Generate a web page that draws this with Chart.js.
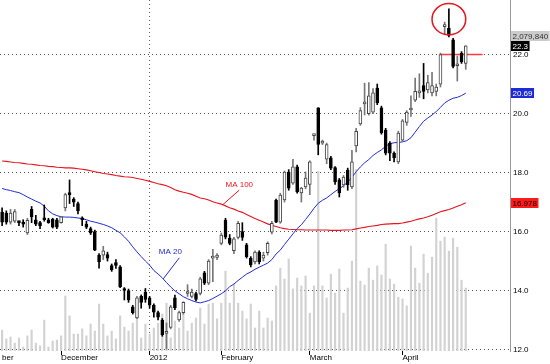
<!DOCTYPE html>
<html>
<head>
<meta charset="utf-8">
<script src="https://cdn.jsdelivr.net/npm/chart.js@4.4.1/dist/chart.umd.min.js"></script>
<style>
  html, body { margin: 0; padding: 0; background: #fff; }
  canvas { display: block; }
</style>
</head>
<body>
<canvas id="grafico" width="550" height="364"></canvas>
<script>
// velas diarias (leidas a ojo del grafico)
const opens = [16.66,16.63,16.32,16.35,16.32,16.30,15.95,16.75,16.40,16.30,
  16.45,16.40,16.42,16.40,16.30,16.80,17.30,17.10,16.95,16.45,
  16.25,16.10,16.00,15.20,15.20,15.22,14.85,14.95,14.80,14.05,
  14.00,13.45,13.07,13.80,13.95,13.75,13.50,13.25,13.00,12.55,
  12.75,13.75,13.00,13.25,13.90,13.80,13.90,13.90,14.60,14.25,
  15.10,15.12,15.60,16.39,15.78,15.35,15.80,16.00,15.55,15.10,
  14.97,15.30,15.10,15.28,15.98,17.07,16.32,17.07,18.02,17.64,
  18.19,17.31,17.51,17.60,19.25,20.19,19.00,18.45,18.50,18.17,
  17.75,17.58,18.08,17.51,18.90,19.65,20.33,20.00,20.05,20.86,
  20.19,19.44,19.00,18.66,18.36,19.10,19.70,20.12,20.45,20.70,
  20.95,20.80,20.70,20.75,21.00,22.95,22.90,22.50,21.62,22.05,21.70];
const highs = [16.80,16.70,16.75,16.75,16.35,16.40,16.45,16.85,16.55,16.35,
  16.90,16.45,16.45,16.45,16.50,17.30,17.75,17.15,17.00,16.50,
  16.35,16.15,16.05,15.25,15.50,15.30,14.90,15.05,14.85,14.10,
  14.05,13.50,13.80,13.85,14.07,13.80,13.55,13.30,13.05,12.90,
  13.50,13.85,13.30,13.62,14.20,14.05,13.95,14.45,14.65,15.05,
  15.40,15.25,15.95,16.45,15.90,15.80,16.35,16.30,15.60,15.15,
  15.35,15.35,15.30,15.65,16.35,17.10,17.30,18.05,18.10,18.45,
  18.25,17.50,18.02,18.40,19.30,20.20,19.10,19.00,18.55,18.20,
  17.80,17.90,18.15,18.75,19.50,20.20,21.03,21.05,20.85,21.00,
  20.25,19.50,19.05,18.70,19.40,19.80,20.10,20.60,21.20,21.35,
  21.70,21.30,21.40,21.00,22.05,23.10,23.55,22.55,21.95,22.10,22.30];
const lows = [16.20,16.25,16.25,16.30,16.20,16.15,15.90,16.30,16.20,16.10,
  16.35,16.28,16.12,16.10,16.28,16.70,16.95,16.85,16.60,16.20,
  16.10,15.90,15.35,14.76,15.05,15.00,14.65,14.75,14.10,13.68,
  13.60,13.20,13.05,13.40,13.60,13.40,13.10,13.00,12.45,12.02,
  12.70,13.35,12.95,13.20,13.80,13.75,13.65,13.85,14.20,14.20,
  14.30,15.05,15.55,15.75,15.55,15.25,15.75,15.70,15.10,14.80,
  14.90,14.90,15.00,15.20,15.92,16.30,16.28,17.00,17.40,17.60,
  17.30,17.00,17.45,17.25,19.10,18.60,18.95,18.30,18.10,17.60,
  17.17,17.50,17.40,17.45,18.70,19.60,19.95,19.95,20.00,20.30,
  19.30,18.60,18.40,18.36,18.30,19.05,19.60,19.90,20.40,20.55,
  20.50,20.70,20.60,20.60,20.90,22.70,22.60,21.55,21.10,21.70,21.50];
const closes = [16.32,16.32,16.63,16.68,16.30,16.25,16.38,16.50,16.25,16.20,
  16.40,16.30,16.15,16.15,16.50,17.25,17.25,17.00,16.70,16.40,
  16.15,15.95,15.37,14.97,15.35,15.10,14.70,14.85,14.12,14.00,
  13.68,13.25,13.75,13.60,13.70,13.50,13.27,13.10,12.50,12.60,
  13.45,13.42,13.25,13.60,13.95,13.95,13.70,14.40,14.25,15.00,
  15.15,15.20,15.88,15.81,15.60,15.75,16.28,15.80,15.15,14.87,
  15.30,14.97,15.20,15.60,16.28,16.32,17.24,18.02,17.47,18.19,
  17.34,17.47,17.81,18.36,19.27,18.95,19.07,18.95,18.15,17.68,
  17.31,17.85,17.58,18.36,19.40,20.10,20.36,20.60,20.70,20.36,
  19.34,18.66,18.66,18.50,19.34,19.75,20.05,20.17,20.75,20.75,
  20.75,21.05,20.95,20.90,22.00,23.00,22.65,21.60,21.65,21.75,22.30];
// volumen en millones
const volumes = [0.69,0.40,0.46,0.26,0.43,0.13,0.50,0.69,0.26,0.17,
  1.02,0.13,0.33,0.36,0.50,1.82,1.16,0.56,0.56,0.73,
  0.50,0.89,0.66,1.55,0.89,0.50,0.66,0.40,1.16,0.79,
  0.66,0.92,1.65,0.43,0.89,0.56,0.76,0.92,1.22,1.58,
  0.43,0.99,0.76,1.22,0.66,0.92,1.09,1.42,0.89,1.55,
  1.58,1.06,1.58,2.64,1.58,2.21,1.58,1.32,1.06,1.55,
  0.76,1.32,0.76,1.09,0.99,2.15,2.74,2.38,3.04,2.05,
  2.41,2.15,2.48,1.25,2.15,5.94,2.15,1.75,2.54,1.91,
  2.71,1.25,2.08,2.97,6.00,2.31,2.18,2.74,2.34,2.81,
  2.51,3.53,2.38,2.21,1.78,1.72,1.49,3.47,2.74,2.24,
  3.20,2.57,3.10,4.39,3.63,3.76,3.30,3.73,3.43,2.34,2.07984];
const ma20 = [17.46,17.42,17.39,17.35,17.32,17.25,17.17,17.10,17.03,16.97,
  16.86,16.70,16.60,16.54,16.50,16.49,16.49,16.48,16.46,16.44,
  16.40,16.35,16.32,16.28,16.24,16.19,16.13,16.04,15.96,15.82,
  15.67,15.48,15.31,15.15,15.00,14.86,14.68,14.56,14.43,14.27,
  14.12,13.99,13.89,13.79,13.72,13.66,13.61,13.58,13.62,13.66,
  13.73,13.81,13.89,13.99,14.13,14.22,14.34,14.45,14.56,14.63,
  14.72,14.79,14.86,14.93,15.05,15.24,15.37,15.56,15.74,15.92,
  16.10,16.23,16.41,16.59,16.79,16.96,17.06,17.14,17.25,17.36,
  17.45,17.55,17.68,17.84,18.03,18.19,18.33,18.44,18.58,18.68,
  18.77,18.89,18.98,19.01,19.02,19.04,19.08,19.18,19.37,19.56,
  19.74,19.85,19.95,20.07,20.21,20.36,20.45,20.52,20.55,20.61,20.69];
const ma100 = [18.39,18.38,18.36,18.34,18.33,18.31,18.29,18.28,18.26,18.24,
  18.23,18.21,18.20,18.18,18.17,18.16,18.16,18.15,18.13,18.11,
  18.09,18.06,18.03,18.00,17.97,17.95,17.93,17.90,17.88,17.86,
  17.85,17.83,17.80,17.77,17.74,17.70,17.66,17.62,17.59,17.55,
  17.49,17.42,17.37,17.33,17.30,17.26,17.20,17.14,17.11,17.07,
  17.01,16.97,16.93,16.87,16.81,16.76,16.70,16.65,16.58,16.51,
  16.44,16.38,16.32,16.26,16.21,16.17,16.13,16.10,16.08,16.07,
  16.06,16.06,16.05,16.05,16.05,16.05,16.05,16.05,16.04,16.04,
  16.04,16.05,16.05,16.06,16.09,16.12,16.14,16.17,16.19,16.21,
  16.24,16.25,16.26,16.27,16.27,16.29,16.32,16.35,16.39,16.43,
  16.46,16.50,16.55,16.61,16.67,16.71,16.75,16.80,16.86,16.91,16.978];

const totalSlots = 121;
const monthNames = ["ber", "December", "2012", "February", "March", "April"];
const monthSlots = [0, 14, 35, 52, 73, 95];
const yearSlot = 35;
const priceTicks = [12, 14, 16, 18, 20, 22];
// linea horizontal y circulo marcados a mano en el original
const lineLevel = 22.0, lineFrom = 104, lineTo = 114;
const circleSlot = 106, circlePrice = 23.2, circleBars = 4, circleSpan = 0.53;

const fuente = "Liberation Sans";
const labels = [];
for (let i = 0; i < totalSlots; i++) {
  const k = monthSlots.indexOf(i);
  labels.push(k >= 0 ? monthNames[k] : "");
}
const up = closes.map((c, i) => c >= opens[i]);
const bodies = opens.map((o, i) => [o, closes[i]]);
const wicks = lows.map((l, i) => [l, highs[i]]);
const resistencia = labels.map((_, i) => (i >= lineFrom && i <= lineTo ? lineLevel : null));

const fmtVol = (v) => Math.round(v * 1e6).toString().replace(/\B(?=(\d{3})+(?!\d))/g, ",");

const notas = {
  id: "notas",
  afterDatasetsDraw(chart) {
    const { ctx, scales: { x, y } } = chart;
    const paso = x.getPixelForValue(1) - x.getPixelForValue(0);
    ctx.save();
    // circulo rojo
    const cx = x.getPixelForValue(circleSlot);
    const cy = y.getPixelForValue(circlePrice);
    const ry = Math.abs(y.getPixelForValue(circlePrice + circleSpan) - cy);
    ctx.strokeStyle = "#e8141e";
    ctx.lineWidth = 1.5;
    ctx.beginPath();
    ctx.ellipse(cx, cy, circleBars * paso, ry, 0, 0, Math.PI * 2);
    ctx.stroke();
    // etiquetas de medias
    ctx.font = "8px " + fuente;
    ctx.textAlign = "center";
    ctx.textBaseline = "middle";
    const etiqueta = (serie, slot, texto, color, tx, ty, lx, ly) => {
      const ax = x.getPixelForValue(slot);
      const ay = y.getPixelForValue(serie[slot]);
      ctx.strokeStyle = color;
      ctx.lineWidth = 1;
      ctx.beginPath();
      ctx.moveTo(ax + lx, ay + ly);
      ctx.lineTo(ax + 1, ay + 1);
      ctx.stroke();
      ctx.fillStyle = color;
      ctx.fillText(texto, ax + tx, ay + ty);
    };
    etiqueta(ma20, 38, "MA 20", "#1f2bd6", 8, -26, 17, -20);
    etiqueta(ma100, 52, "MA 100", "#e8141e", 18, -19, 18, -14);
    ctx.restore();
  },
  afterDraw(chart) {
    const { ctx, chartArea, scales: { y } } = chart;
    const left = chartArea.right + 1;
    ctx.save();
    ctx.font = "8px " + fuente;
    ctx.textAlign = "left";
    ctx.textBaseline = "middle";
    const caja = (py, texto, fondo, tinta) => {
      const w = ctx.measureText(texto).width + 3;
      ctx.fillStyle = fondo;
      ctx.fillRect(left, Math.round(py) - 5, w, 10);
      ctx.fillStyle = tinta;
      ctx.fillText(texto, left + 1.5, Math.round(py) + 0.5);
    };
    const last = closes.length - 1;
    const yClose = y.getPixelForValue(closes[last]);
    caja(yClose - 10, fmtVol(volumes[last]), "#cccccc", "#333");
    caja(yClose, String(closes[last]), "#000", "#fff");
    caja(y.getPixelForValue(ma20[last]), ma20[last].toFixed(2), "#1f2bd6", "#fff");
    caja(y.getPixelForValue(ma100[last]), ma100[last].toFixed(3), "#ff1a1a", "#000");
    ctx.restore();
  }
};

new Chart(document.querySelector("#grafico"), {
  type: "bar",
  data: {
    labels,
    datasets: [
      {
        label: "Cuerpos", data: bodies, yAxisID: "y", grouped: false, order: 0,
        backgroundColor: up.map((u) => (u ? "#fff" : "#000")),
        borderColor: up.map((u) => (u ? "#444" : "#000")),
        borderWidth: 1, borderSkipped: false, barThickness: 3, minBarLength: 2
      },
      {
        label: "Mechas", data: wicks, yAxisID: "y", grouped: false, order: 1,
        backgroundColor: up.map((u) => (u ? "#777" : "#000")),
        barThickness: 1
      },
      { type: "line", label: "MA 20", data: ma20, yAxisID: "y", order: 2,
        borderColor: "#1f2bd6", borderWidth: 1, pointRadius: 0 },
      { type: "line", label: "MA 100", data: ma100, yAxisID: "y", order: 2,
        borderColor: "#e8141e", borderWidth: 1.1, pointRadius: 0 },
      { type: "line", label: "Linea", data: resistencia, yAxisID: "y", order: 2,
        borderColor: "#ff3b3b", borderWidth: 1.5, pointRadius: 0 },
      { label: "Volumen", data: volumes, yAxisID: "yv", grouped: false, order: 5,
        backgroundColor: "#d2d2d2", barThickness: 1.5 }
    ]
  },
  options: {
    responsive: false,
    animation: false,
    events: [],
    layout: { padding: 0 },
    plugins: { legend: { display: false }, tooltip: { enabled: false } },
    scales: {
      x: {
        offset: true,
        grid: {
          offset: false,
          color: (c) => (c.index === yearSlot ? "#666" : "rgba(0,0,0,0)"),
          tickColor: (c) => (monthSlots.slice(1).includes(c.index) ? "#000" : "rgba(0,0,0,0)"),
          tickLength: 4
        },
        border: { display: false, dash: [1, 3] },
        ticks: {
          autoSkip: false, maxRotation: 0, minRotation: 0, align: "start", padding: -2,
          color: "#000", font: { family: fuente, size: 8 }
        },
        afterFit: (s) => { s.height = 13; s.paddingLeft = 0; s.paddingRight = 0; }
      },
      y: {
        position: "right",
        min: 11.95,
        max: 23.85,
        afterBuildTicks: (s) => { s.ticks = priceTicks.map((v) => ({ value: v })); },
        ticks: {
          callback: (v) => Number(v).toFixed(1), padding: 3,
          color: "#000", font: { family: fuente, size: 8 }
        },
        grid: { color: "#555", drawTicks: false },
        border: { display: true, color: "#9a9a9a", dash: [1, 3] },
        afterFit: (s) => { s.width = 40; s.paddingTop = 0; s.paddingBottom = 0; }
      },
      yv: { display: false, min: 0, max: 11.6 }
    }
  },
  plugins: [notas]
});
</script>
</body>
</html>
